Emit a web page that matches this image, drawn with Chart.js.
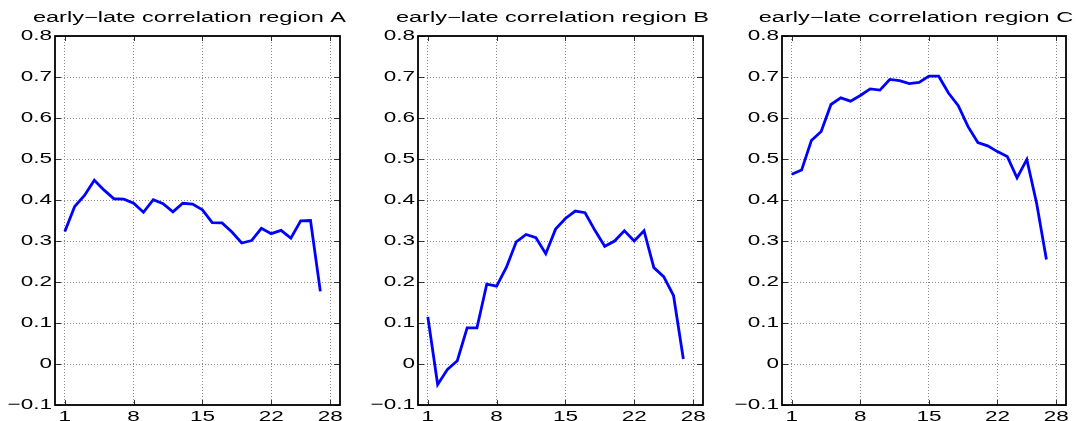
<!DOCTYPE html>
<html>
<head>
<meta charset="utf-8">
<script src="https://cdn.jsdelivr.net/npm/chart.js@4.4.1/dist/chart.umd.min.js"></script>
<style>
  body { margin: 0; background: #fff; }
  #wrap { position: relative; width: 1076px; height: 421px; }
  canvas { position: absolute; top: 0; }
</style>
</head>
<body>
<div id="wrap">
  <canvas id="c0"></canvas>
  <canvas id="c1"></canvas>
  <canvas id="c2"></canvas>
</div>
<script>
// data
const steps = [1, 2, 3, 4, 5, 6, 7, 8, 9, 10, 11, 12, 13, 14, 15, 16, 17, 18, 19, 20, 21, 22, 23, 24, 25, 26, 27];
const regionA = [0.323, 0.384, 0.411, 0.448, 0.424, 0.403, 0.402, 0.392, 0.370, 0.401, 0.391, 0.371, 0.392, 0.390,
  0.376, 0.345, 0.344, 0.322, 0.295, 0.301, 0.331, 0.318, 0.326, 0.307, 0.349, 0.350, 0.177];
const regionB = [0.115, -0.050, -0.013, 0.008, 0.088, 0.088, 0.195, 0.190, 0.236, 0.298, 0.316, 0.308, 0.269, 0.329,
  0.355, 0.373, 0.369, 0.326, 0.287, 0.300, 0.325, 0.300, 0.325, 0.235, 0.213, 0.167, 0.012];
const regionC = [0.463, 0.473, 0.545, 0.567, 0.633, 0.649, 0.641, 0.655, 0.671, 0.668, 0.694, 0.691, 0.684, 0.687,
  0.702, 0.702, 0.661, 0.630, 0.579, 0.540, 0.532, 0.518, 0.506, 0.454, 0.499, 0.392, 0.255];
const titles = ["early\u2212late correlation region A", "early\u2212late correlation region B", "early\u2212late correlation region C"];
const xTicks = [1, 8, 15, 22, 28];
const yTicks = [-0.1, 0, 0.1, 0.2, 0.3, 0.4, 0.5, 0.6, 0.7, 0.8];

// panel placement on the page
const panels = [
  { left: 0, width: 360, plotL: 55, plotR: 340 },
  { left: 360, width: 356, plotL: 418, plotR: 703 },
  { left: 716, width: 360, plotL: 782, plotR: 1066 },
];

const font = { family: "Liberation Sans", size: 15, weight: "normal" };

// the original lettering is stretched sideways; widen text around its anchor
// (titles sit a little left of the plot centre)
const wideText = {
  id: "wideText",
  afterInit(c) {
    const ctx = c.ctx;
    const fill = CanvasRenderingContext2D.prototype.fillText;
    ctx.fillText = function (t, x, y) {
      const isTitle = this.font.indexOf("14px") >= 0;
      const k = isTitle ? 1.68 : 1.5;
      this.save();
      this.translate(isTitle ? x - 8 : x, y);
      this.scale(k, 1);
      fill.call(this, t, 0, 0);
      this.restore();
    };
  },
};

// black box with inward ticks, like the original
const frame = {
  id: "frame",
  afterDraw(c) {
    const { left, right, top, bottom } = c.chartArea;
    const ctx = c.ctx;
    ctx.save();
    ctx.strokeStyle = "#333";
    ctx.lineWidth = 1;
    ctx.beginPath();
    xTicks.forEach(v => {
      const px = Math.round(c.scales.x.getPixelForValue(v)) + 0.5;
      ctx.moveTo(px, bottom); ctx.lineTo(px, bottom - 5);
      ctx.moveTo(px, top); ctx.lineTo(px, top + 5);
    });
    yTicks.forEach(v => {
      const py = Math.round(c.scales.y.getPixelForValue(v)) + 0.5;
      ctx.moveTo(left, py); ctx.lineTo(left + 6, py);
      ctx.moveTo(right, py); ctx.lineTo(right - 6, py);
    });
    ctx.stroke();
    ctx.strokeStyle = "#000";
    ctx.lineWidth = 1.8;
    ctx.strokeRect(left, top, right - left, bottom - top);
    ctx.restore();
  },
};

function fmt(v) {
  if (v === 0) return "0";
  return (v < 0 ? "\u2212" : "") + Math.abs(v).toFixed(1);
}

function makePanel(i, values) {
  const p = panels[i];
  const canvas = document.getElementById("c" + i);
  canvas.width = p.width;
  canvas.height = 421;
  canvas.style.left = p.left + "px";

  new Chart(canvas, {
    type: "line",
    data: {
      datasets: [{
        data: steps.map((s, k) => ({ x: s, y: values[k] })),
        borderColor: "#0000ff",
        borderWidth: 2.8,
        pointRadius: 0,
        tension: 0,
        fill: false,
      }],
    },
    options: {
      responsive: false,
      animation: false,
      layout: { padding: { left: 0, right: p.left + p.width - p.plotR, top: 0, bottom: 0 } },
      plugins: {
        legend: { display: false },
        tooltip: { enabled: false },
        title: {
          display: true,
          text: titles[i],
          fullSize: false,
          color: "#000",
          font: { family: "Liberation Sans", size: 14, weight: "normal" },
          padding: { top: 10, bottom: 9.2 },
        },
      },
      scales: {
        x: {
          type: "linear",
          min: 0,
          max: 29,
          afterBuildTicks: s => { s.ticks = xTicks.map(v => ({ value: v })); },
          afterFit: s => { s.height = 16; },
          grid: { color: "#8c8c8c", drawTicks: false },
          border: { display: false, dash: [1, 2] },
          ticks: { color: "#000", font: font, padding: 3, autoSkip: false, maxRotation: 0 },
        },
        y: {
          min: -0.1,
          max: 0.8,
          afterBuildTicks: s => { s.ticks = yTicks.map(v => ({ value: v })); },
          afterFit: s => { s.width = p.plotL - p.left; },
          grid: { color: "#8c8c8c", drawTicks: false },
          border: { display: false, dash: [1, 2] },
          ticks: { color: "#000", font: font, padding: 3, callback: v => fmt(v) },
        },
      },
    },
    plugins: [wideText, frame],
  });
}

makePanel(0, regionA);
makePanel(1, regionB);
makePanel(2, regionC);
</script>
</body>
</html>
